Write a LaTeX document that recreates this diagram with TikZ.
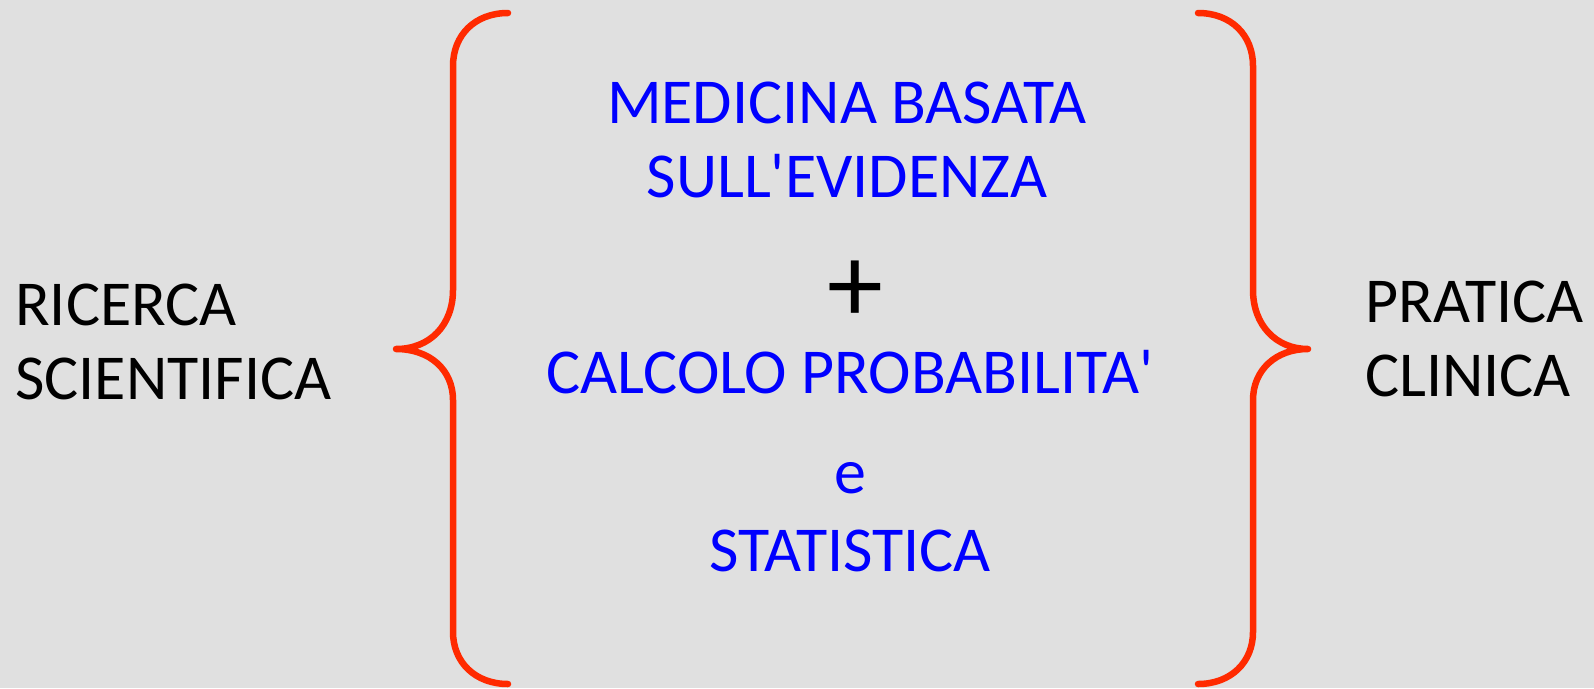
\documentclass[tikz,border=0pt]{standalone}
\usepackage{fontspec}
\setmainfont{Carlito}[Ligatures=TeXOff]
\usepackage{tikz}
\definecolor{bggray}{RGB}{224,224,224}
\definecolor{bracered}{RGB}{255,42,0}
\definecolor{textblue}{RGB}{0,0,255}
\tikzset{
  txt/.style={inner sep=0pt, anchor=base, font=\fontsize{64}{77}\selectfont},
  bluetxt/.style={txt, text=textblue},
  brace/.style={draw=bracered, line width=6.5pt, line cap=round, line join=round}
}

\begin{document}
\begin{tikzpicture}[x=1pt,y=-1pt]

  \fill[bggray] (0,0) rectangle (1594,688);
  \useasboundingbox (0,0) rectangle (1594,688);

  % left brace
  \draw[brace] (508,13) .. controls (475,13) and (453,35) .. (453,66)
    -- (453,290) .. controls (453,325) and (430,349) .. (396,349)
    .. controls (430,349) and (453,370) .. (453,400)
    -- (453,632) .. controls (453,662) and (475,684) .. (508,684);

  % right brace
  \draw[brace] (1198,13) .. controls (1231,13) and (1253,35) .. (1253,66)
    -- (1253,290) .. controls (1253,325) and (1276,349) .. (1308,349)
    .. controls (1276,349) and (1253,370) .. (1253,400)
    -- (1253,632) .. controls (1253,662) and (1231,684) .. (1198,684);

  % side labels
  \node[txt, anchor=base west] (ric) at (15,325) {RICERCA};
  \node[txt, anchor=base west] (sci) at (15,399) {SCIENTIFICA};

  \node[txt, anchor=base west] (pra) at (1365,322) {PRATICA};
  \node[txt, anchor=base west] (cli) at (1365,396) {CLINICA};

  % middle
  \node[bluetxt] (med) at (847,123) {MEDICINA BASATA};
  \node[bluetxt] (sul) at (847,197) {SULL'EVIDENZA};

  \node[txt, font=\fontsize{112}{112}\selectfont] (plus) at (855,322) {+};

  \node[bluetxt] (cal) at (850,393) {CALCOLO PROBABILITA'};
  \node[bluetxt] (e) at (850,493) {e};
  \node[bluetxt] (sta) at (850,571) {STATISTICA};

\end{tikzpicture}
\end{document}
